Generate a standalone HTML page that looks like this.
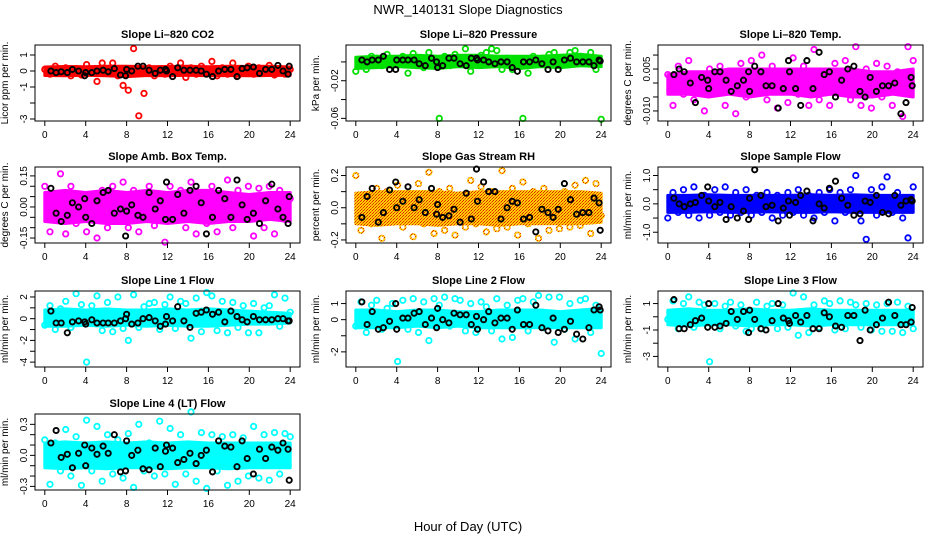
<!DOCTYPE html>
<html><head><meta charset="utf-8">
<style>
html,body{margin:0;padding:0;background:#fff;}
svg{display:block;font-family:"Liberation Sans",sans-serif;}
</style></head>
<body>
<svg id="chart" width="936" height="540" viewBox="0 0 936 540" xmlns="http://www.w3.org/2000/svg">
<defs>
<pattern id="rhpat" width="3" height="3" patternUnits="userSpaceOnUse">
<rect width="3" height="3" fill="#ffd000"/><rect width="1" height="1" fill="#e02000"/><rect x="2" y="1" width="1" height="1" fill="#f06000"/><rect x="1" y="2" width="1" height="1" fill="#e02000"/>
</pattern>
</defs>
<text x="468" y="14" text-anchor="middle" font-size="13">NWR_140131  Slope Diagnostics</text>
<text x="468" y="531" text-anchor="middle" font-size="13">Hour of Day (UTC)</text>
<g id="panels"></g>
</svg>
<script>
// shared black (sample) hours
const blackHours=[0.6,1.1,1.6,2.2,2.7,3.3,3.9,4.0,4.6,5.1,5.7,6.2,6.8,7.4,7.9,8.0,8.5,9.1,9.6,10.2,10.8,11.3,11.8,11.9,12.5,13.0,13.6,14.2,14.8,15.3,15.8,16.4,17.0,17.6,18.2,18.8,19.3,19.8,20.4,21.0,21.6,22.2,22.8,23.3,23.8,23.9];
const xTicks=[0,4,8,12,16,20,24];
const bandHours=[0,2,4,6,8,10,12,14,16,18,20,22,24];

const co2Col=[0.1,-0.2,0.3,-0.1,0.2,-0.3,0.15,-0.25,0.4,0.1,-0.65,0.5,-0.15,0.5,-0.3,-0.9,-1.2,1.4,-2.8,-1.4,0.2,-0.3,0.1,-0.2,0.3,-0.1,0.5,-0.4,0.2,-0.2,0.3,-0.1,0.6,-0.3,0.2,-0.2,0.5,-0.3,0.1,0.3,-0.2,0.2,-0.1,0.35,-0.25,0.15,-0.2,0.1];
const co2Black=[0,-0.1,-0.05,-0.1,0.1,0,-0.3,-0.1,-0.1,0,0.05,-0.05,0.15,-0.25,-0.3,0.1,0,0.3,0.3,0.05,-0.15,0.05,0.1,0,-0.35,0.2,0.05,0.05,0.05,0,-0.2,-0.35,0,0.1,0.1,-0.35,0.15,0.2,0.25,-0.15,0.1,0.1,0.35,0,-0.2,0.3];
const co2Lo=[-0.28,-0.3,-0.27,-0.3,-0.35,-0.28,-0.3,-0.27,-0.3,-0.28,-0.3,-0.28,-0.27];
const co2Hi=[0.25,0.28,0.27,0.3,0.3,0.26,0.28,0.3,0.27,0.3,0.28,0.3,0.25];

const presCol=[-0.01,0.002,-0.008,0.006,0.004,-0.004,0.008,0.002,-0.003,0.006,-0.012,0.009,0.004,-0.006,0.01,0.003,-0.06,0.006,-0.004,0.008,0.002,0.014,-0.01,0.004,0.007,0.01,0.014,0.012,-0.008,0.004,-0.008,0.002,-0.06,-0.012,0.006,0.002,0.004,0.008,0.01,-0.004,0.004,0.01,0.012,0.006,-0.002,0.01,-0.008,-0.061];
const presBlack=[0.002,0,0.002,0.002,0.006,-0.008,-0.008,0.002,0.002,0.002,0.002,-0.002,-0.004,0.004,0,-0.006,-0.004,0.004,0.004,-0.002,-0.004,0.004,0.004,0.002,0.002,0,-0.002,0,0,-0.006,-0.01,0,0,0.002,-0.002,-0.008,0,-0.008,0.002,0.004,0,0,0,-0.004,0.002,0.001];
const presLo=[-0.007,-0.006,-0.005,-0.006,-0.007,-0.005,-0.006,-0.005,-0.007,-0.005,-0.006,-0.004,-0.005];
const presHi=[0.005,0.006,0.006,0.007,0.006,0.007,0.007,0.006,0.006,0.006,0.007,0.008,0.006];

const tempCol=[0.003,-0.008,0.006,-0.004,0.008,-0.006,0.002,-0.01,0.005,-0.003,0.006,-0.008,0.004,-0.011,0.007,-0.005,0.008,-0.003,0.01,-0.006,0.006,-0.009,0.004,-0.007,0.009,-0.004,0.006,-0.008,0.012,-0.006,0.004,-0.008,0.007,-0.003,0.008,-0.006,0.013,-0.008,0.005,-0.009,0.007,-0.005,0.006,-0.008,0.004,-0.012,0.013,0.008];
const tempBlack=[0.003,0.005,0.004,0,-0.007,0.002,0.001,-0.002,0.004,0.004,0.001,-0.003,-0.001,0.001,0.004,-0.003,0.006,0.004,-0.001,-0.001,-0.009,-0.002,0.008,0.004,-0.002,-0.008,0.008,-0.002,0.011,0.003,0.004,-0.005,0.001,0.005,0.006,-0.003,-0.005,0.002,-0.003,-0.001,-0.001,0,-0.011,-0.007,0.002,-0.001];
const tempLo=[-0.004,-0.004,-0.005,-0.004,-0.005,-0.004,-0.004,-0.005,-0.004,-0.005,-0.005,-0.004,-0.005];
const tempHi=[0.003,0.004,0.004,0.005,0.005,0.005,0.005,0.005,0.005,0.005,0.004,0.004,0.005];

const ambCol=[0.1,-0.12,0.05,0.16,-0.13,0.1,-0.08,0.06,-0.12,0.05,-0.15,0.08,-0.1,0.1,-0.06,0.12,-0.1,0.08,-0.12,0.04,0.1,-0.09,0.05,-0.17,0.1,-0.06,0.08,-0.1,0.12,-0.13,0.06,-0.08,0.1,-0.12,0.05,0.13,-0.1,0.08,-0.06,0.1,-0.14,0.09,-0.1,0.1,-0.13,0.08,-0.06,0.04];
const ambBlack=[0.09,-0.03,-0.07,-0.04,0.02,0,0.04,-0.05,-0.08,0.03,0.07,0.08,-0.03,-0.01,-0.14,-0.02,0.01,-0.04,-0.05,0.07,-0.01,0.03,-0.06,0.12,-0.06,0.06,-0.03,0.08,0.1,0.02,-0.13,-0.05,0.08,0.04,-0.05,0.13,0.01,-0.06,-0.03,-0.08,0.03,0.11,-0.01,-0.05,-0.08,0.05];
const ambLo=[-0.07,-0.08,-0.07,-0.08,-0.08,-0.07,-0.08,-0.07,-0.08,-0.07,-0.07,-0.06,-0.07];
const ambHi=[0.07,0.08,0.07,0.08,0.07,0.08,0.07,0.08,0.08,0.07,0.06,0.07,0.07];

const rhCol=[0.2,-0.14,0.08,-0.1,0.12,-0.19,0.1,-0.08,0.14,-0.12,0.08,-0.18,0.15,-0.1,0.22,-0.16,0.1,-0.14,0.12,-0.17,0.08,-0.12,0.17,-0.1,0.13,-0.15,0.1,-0.13,0.23,-0.12,0.12,-0.17,0.16,-0.1,0.1,-0.19,0.12,-0.14,0.08,-0.13,0.1,-0.12,0.14,-0.11,0.17,-0.16,0.15,-0.05];
const rhBlack=[-0.06,0.07,0.12,-0.09,-0.03,0.11,0.16,0,0.04,0.13,0,0.05,-0.03,0.12,-0.04,0.02,-0.06,-0.05,-0.01,-0.09,0.09,-0.07,0.24,0.04,0.16,0.1,0.1,-0.07,0,0.04,0.03,-0.07,-0.06,-0.15,-0.01,-0.03,-0.06,-0.01,0.15,0.05,-0.04,-0.03,-0.03,0.06,0.03,-0.14];
const rhLo=[-0.1,-0.11,-0.1,-0.1,-0.11,-0.1,-0.1,-0.11,-0.1,-0.1,-0.1,-0.1,-0.09];
const rhHi=[0.09,0.1,0.1,0.1,0.1,0.09,0.1,0.1,0.1,0.1,0.1,0.1,0.09];

const sfCol=[-0.5,0.4,-0.3,0.5,-0.4,0.6,-0.5,0.3,-0.4,0.5,-0.3,0.6,-0.4,0.4,-0.3,0.5,-0.4,0.3,-0.3,0.4,-0.5,0.3,-0.4,0.4,-0.3,0.5,-0.4,0.3,-0.5,0.4,-0.3,0.5,-0.6,0.4,-0.3,0.5,1.0,-0.6,-1.25,0.5,-0.4,0.6,0.95,-0.3,0.4,-0.5,-1.2,0.6];
const sfBlack=[0.2,0,-0.1,0,0.05,0.3,0.6,0.1,-0.1,0.05,-0.55,-0.1,-0.5,-0.25,-0.55,0.2,1.2,0.3,-0.1,-0.05,-0.6,-0.15,0.1,-0.4,0.05,0.3,0.45,-0.6,0,-0.15,0.55,0.8,0.2,-0.05,-0.4,-0.35,0.1,0.05,0.3,-0.3,-0.35,0.3,-0.05,0.1,0.15,0.1];
const sfLo=[-0.3,-0.3,-0.28,-0.3,-0.3,-0.28,-0.3,-0.3,-0.28,-0.3,-0.3,-0.3,-0.3];
const sfHi=[0.3,0.3,0.32,0.3,0.3,0.3,0.3,0.32,0.3,0.32,0.3,0.3,0.3];

const l1Col=[-0.6,1.2,-1,0.9,1.6,-0.8,2.3,1.3,-4,1.2,2.1,-1.1,1.5,-1.2,2,-0.9,-2,2.2,-0.8,1.1,1.4,1.5,-1,1.3,2,-0.9,1.6,1.4,-1.8,1.9,-1.2,2.4,2.1,-1.1,1.6,-1.3,1.5,-0.8,1.2,-1.3,1.4,-1.3,1,1.2,2.2,-0.7,1.9,0.6];
const l1Black=[0.7,-0.4,-0.4,-1.3,-0.3,-0.2,-0.3,-0.5,-0.1,-0.4,-0.4,-0.4,-0.4,-0.2,0,0.4,-0.5,-0.4,0,0.1,-0.2,-0.7,-0.5,0.2,-0.2,1.1,-0.2,-0.8,0.5,0.6,0.8,0.4,0.6,-0.3,0.7,0.2,-0.1,-0.3,0.2,-0.1,-0.1,-0.1,0,0,-0.2,-0.2];
const l1Lo=[-0.7,-0.7,-0.6,-0.7,-0.6,-0.7,-0.6,-0.7,-0.7,-0.6,-0.5,-0.5,-0.4];
const l1Hi=[0.8,0.9,0.8,0.9,0.8,0.8,0.9,0.8,0.9,0.8,0.7,0.6,0.5];

const l2Col=[-0.4,1.1,-0.8,0.9,1.2,-0.6,0.7,1,-2.6,1.2,-0.6,1.3,-0.8,1.1,-1.3,1.3,0.9,1.4,-0.4,1.3,1.2,-0.7,1.0,-0.8,1.1,0.8,-0.7,1.3,-1.2,0.9,-1.1,1.2,1.3,-0.7,1.1,1.5,-0.5,1.4,-1.4,1.4,-0.6,1.0,-1.2,1.2,1.3,-0.8,0.9,-2.1];
const l2Black=[1.1,-0.3,0.5,-0.6,-0.5,-0.1,1.0,-0.6,0.1,0.1,0.4,0.5,-0.3,0.1,-0.5,0.7,0,-0.2,0.4,0.3,0.3,-0.3,0.2,-0.6,0,0.5,-0.2,0.1,0.1,-0.6,0.6,-0.3,-0.3,0.9,-0.5,-0.7,0.1,-0.8,-0.6,-0.1,-0.9,-1.2,-0.5,0.6,0.8,0.6];
const l2Lo=[-0.5,-0.5,-0.5,-0.4,-0.5,-0.4,-0.5,-0.5,-0.5,-0.5,-0.5,-0.5,-0.5];
const l2Hi=[0.6,0.6,0.5,0.6,0.6,0.5,0.5,0.6,0.6,0.6,0.5,0.6,0.7];

const l3Col=[-0.2,1.2,-0.9,1.0,1.5,-0.8,1.1,0.9,-3.4,1.0,-0.9,0.8,1.1,-0.7,0.9,-1.1,-0.9,1.1,-0.9,0.8,1.0,-0.9,0.9,-0.8,1.8,-1.4,1.5,-1.2,0.9,-0.8,1.2,1.0,-1.0,1.2,-0.9,1.1,0.9,-0.8,1.0,-1.0,0.9,-1.1,1.0,-1.1,1.1,-1.2,0.8,-0.9];
const l3Black=[1.3,-0.9,-0.9,-0.6,-0.3,-0.1,-0.8,1.0,-0.8,-0.7,-0.5,0.4,-0.2,0.4,-1.2,0.5,-0.2,-0.9,-1.0,-0.3,1.0,-0.1,-0.3,-0.5,0.1,-0.4,0.1,-0.9,-0.9,0.3,0,-0.7,-0.8,0.1,0.1,-1.8,0.5,-1.0,-0.6,-0.1,1.1,0.1,-0.6,-0.6,-0.4,0.7];
const l3Lo=[-0.6,-0.7,-0.6,-0.6,-0.7,-0.6,-0.6,-0.7,-0.6,-0.6,-0.6,-0.6,-0.6];
const l3Hi=[0.5,0.6,0.5,0.5,0.6,0.5,0.5,0.6,0.5,0.5,0.5,0.5,0.5];

const l4Col=[0.15,-0.28,0.12,-0.15,0.25,-0.2,0.18,-0.29,0.34,-0.15,0.28,-0.25,0.2,-0.18,0.15,-0.22,0.21,-0.31,0.3,-0.15,0.12,-0.2,0.33,-0.18,0.26,-0.28,0.2,-0.18,0.42,-0.25,0.22,-0.32,0.2,-0.15,0.18,-0.29,0.2,-0.25,0.17,-0.2,0.28,-0.22,0.2,-0.24,0.22,-0.18,0.21,0.18];
const l4Black=[0.12,0.24,-0.02,0.01,-0.12,0.02,0.1,-0.1,0.07,0.01,0.09,0.02,0.2,-0.16,-0.15,0.14,0,0.05,-0.13,-0.14,0.07,-0.11,0.04,0.1,0.07,-0.07,-0.04,0.02,-0.08,0,0.05,-0.16,0.14,0.09,0.08,-0.11,0.14,-0.03,-0.18,0.06,-0.03,0.08,0.05,0.12,0.06,-0.24];
const l4Lo=[-0.12,-0.13,-0.12,-0.13,-0.12,-0.12,-0.13,-0.12,-0.12,-0.13,-0.12,-0.12,-0.12];
const l4Hi=[0.12,0.13,0.12,0.13,0.12,0.13,0.12,0.13,0.12,0.12,0.12,0.12,0.12];

const yTicksCo2=[-3,-2,-1,0,1]; const yLabCo2=["-3","","-1","0","1"];
const yTicksPres=[-0.06,-0.04,-0.02,0]; const yLabPres=["-0.06","","-0.02",""];
const yTicksTemp=[-0.01,-0.005,0,0.005,0.01]; const yLabTemp=["-0.010","","","0.005",""];
const yTicksAmb=[-0.15,-0.1,-0.05,0,0.05,0.1,0.15]; const yLabAmb=["-0.15","","","0.00","","","0.15"];
const yTicksRh=[-0.2,-0.1,0,0.1,0.2]; const yLabRh=["-0.2","","0.0","","0.2"];
const yTicksSf=[-1,-0.5,0,0.5,1]; const yLabSf=["-1.0","","0.0","","1.0"];
const yTicksL1=[-4,-3,-2,-1,0,1,2]; const yLabL1=["-4","","-2","","0","","2"];
const yTicksL2=[-2,-1,0,1]; const yLabL2=["-2","","0","1"];
const yTicksL3=[-3,-2,-1,0,1]; const yLabL3=["-3","","-1","","1"];
const yTicksL4=[-0.3,-0.2,-0.1,0,0.1,0.2,0.3]; const yLabL4=["-0.3","","","0.0","","","0.3"];

const NS="http://www.w3.org/2000/svg";
const colLeft=[35,346,658], rowTop=[45,167,291,414], W=265, H=76;
const panels=[
 {id:"co2",title:"Slope Li\u2013820 CO2",ylab:"Licor ppm per min.",c:0,r:0,ymin:-3.125,ymax:1.625,col:"#ff0000",vals:co2Col,blk:co2Black,lo:co2Lo,hi:co2Hi,yt:yTicksCo2,yl:yLabCo2},
 {id:"pressure",title:"Slope Li\u2013820 Pressure",ylab:"kPa per min.",c:1,r:0,ymin:-0.0628,ymax:0.018,col:"#00e000",vals:presCol,blk:presBlack,lo:presLo,hi:presHi,yt:yTicksPres,yl:yLabPres},
 {id:"temp",title:"Slope Li\u2013820 Temp.",ylab:"degrees C per min.",c:2,r:0,ymin:-0.0136,ymax:0.0136,col:"#ff00ff",vals:tempCol,blk:tempBlack,lo:tempLo,hi:tempHi,yt:yTicksTemp,yl:yLabTemp},
 {id:"amb-box-temp",title:"Slope Amb. Box Temp.",ylab:"degrees C per min.",c:0,r:1,ymin:-0.174,ymax:0.193,col:"#ff00ff",vals:ambCol,blk:ambBlack,lo:ambLo,hi:ambHi,yt:yTicksAmb,yl:yLabAmb},
 {id:"gas-stream-rh",title:"Slope Gas Stream RH",ylab:"percent per min.",c:1,r:1,ymin:-0.219,ymax:0.253,col:"url(#rhpat)",vals:rhCol,blk:rhBlack,lo:rhLo,hi:rhHi,yt:yTicksRh,yl:yLabRh},
 {id:"sample-flow",title:"Slope Sample Flow",ylab:"ml/min per min.",c:2,r:1,ymin:-1.38,ymax:1.3,col:"#0000ff",vals:sfCol,blk:sfBlack,lo:sfLo,hi:sfHi,yt:yTicksSf,yl:yLabSf},
 {id:"line1-flow",title:"Slope Line 1 Flow",ylab:"ml/min per min.",c:0,r:2,ymin:-4.45,ymax:2.55,col:"#00ffff",vals:l1Col,blk:l1Black,lo:l1Lo,hi:l1Hi,yt:yTicksL1,yl:yLabL1},
 {id:"line2-flow",title:"Slope Line 2 Flow",ylab:"ml/min per min.",c:1,r:2,ymin:-2.94,ymax:1.78,col:"#00ffff",vals:l2Col,blk:l2Black,lo:l2Lo,hi:l2Hi,yt:yTicksL2,yl:yLabL2},
 {id:"line3-flow",title:"Slope Line 3 Flow",ylab:"ml/min per min.",c:2,r:2,ymin:-3.8,ymax:1.95,col:"#00ffff",vals:l3Col,blk:l3Black,lo:l3Lo,hi:l3Hi,yt:yTicksL3,yl:yLabL3},
 {id:"line4-flow",title:"Slope Line 4 (LT) Flow",ylab:"ml/min per min.",c:0,r:3,ymin:-0.335,ymax:0.40,col:"#00ffff",vals:l4Col,blk:l4Black,lo:l4Lo,hi:l4Hi,yt:yTicksL4,yl:yLabL4}
];
function mk(tag,attrs,parent){const e=document.createElementNS(NS,tag);for(const k in attrs)e.setAttribute(k,attrs[k]);parent.appendChild(e);return e;}
const root=document.getElementById('panels');
panels.forEach(p=>{
 const L=colLeft[p.c],T=rowTop[p.r];
 const xs=h=>L+W*(h+0.96)/25.92;
 const ys=v=>T+H*(p.ymax-v)/(p.ymax-p.ymin);
 const g=mk('g',{},root);
 
 
 const t=mk('text',{x:L+W/2,y:T-7,'text-anchor':'middle','font-size':'11','font-weight':'bold'},g);
 t.textContent=p.title;
 
 
 const cx=L-27, cy=T+H/2;
 const yt=mk('text',{x:cx,y:cy,'text-anchor':'middle','font-size':'10',transform:'rotate(-90 '+cx+' '+cy+')'},g);
 yt.textContent=p.ylab;
 
 
 let d='';
 bandHours.forEach((h,i)=>{d+=(i?'L':'M')+xs(h).toFixed(1)+' '+ys(p.hi[i]).toFixed(1);});
 for(let i=bandHours.length-1;i>=0;i--){d+='L'+xs(bandHours[i]).toFixed(1)+' '+ys(p.lo[i]).toFixed(1);}
 const band=mk('path',{d:d+'Z',fill:p.col,stroke:p.col,'stroke-width':'3','stroke-linejoin':'round'},g);
 
 
 const n=p.vals.length;
 p.vals.forEach((v,i)=>{
  const c=mk('circle',{cx:xs(i*24/(n-1)).toFixed(1),cy:ys(v).toFixed(1),r:'2.7',fill:'none',stroke:p.col,'stroke-width':'1.8'},g);
  
  
 });
 const m=Math.min(blackHours.length,p.blk.length);
 for(let i=0;i<m;i++){
  const c=mk('circle',{cx:xs(blackHours[i]).toFixed(1),cy:ys(p.blk[i]).toFixed(1),r:'2.6',fill:'none',stroke:'#000','stroke-width':'1.9'},g);
  
  
 }
 const box=mk('rect',{x:L,y:T,width:W,height:H,fill:'none',stroke:'#000','stroke-width':'1'},g);
 
 
 const xa=mk('g',{},g);
 
 
 xTicks.forEach(h=>{
  mk('line',{x1:xs(h),x2:xs(h),y1:T+H,y2:T+H+5,stroke:'#000'},xa);
  const tl=mk('text',{x:xs(h),y:T+H+17,'text-anchor':'middle','font-size':'10'},xa);
  tl.textContent=String(h);
 });
 const ya=mk('g',{},g);
 
 
 p.yt.forEach((v,i)=>{
  const y=ys(v);
  mk('line',{x1:L-5,x2:L,y1:y,y2:y,stroke:'#000'},ya);
  if(p.yl[i]){
   const tx=L-8;
   const tl=mk('text',{x:tx,y:y,'text-anchor':'middle','font-size':'10',transform:'rotate(-90 '+tx+' '+y+')'},ya);
   tl.textContent=p.yl[i];
  }
 });
});
</script>
</body></html>
